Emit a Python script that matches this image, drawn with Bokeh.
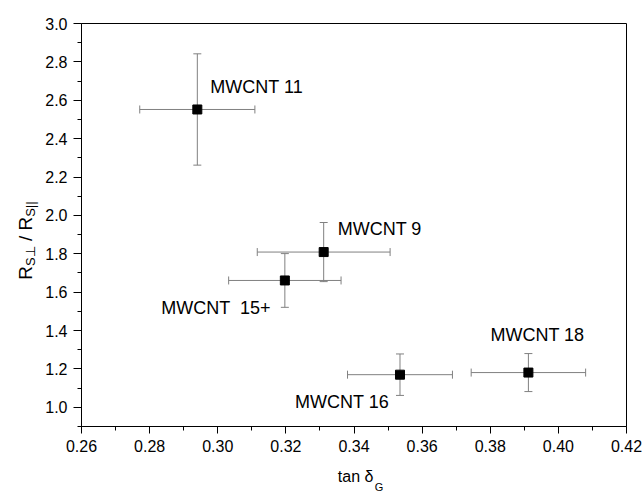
import math
from bokeh.plotting import figure
from bokeh.layouts import row, column
from bokeh.models import ColumnDataSource, FixedTicker, Whisker, TeeHead, Range1d
from bokeh.core.properties import value
from bokeh.embed import file_html
from bokeh.resources import INLINE

# ---- data ----
names = ["MWCNT 11", "MWCNT 9", "MWCNT \u00a015+", "MWCNT 16", "MWCNT 18"]
tan_delta = [0.2940, 0.3311, 0.3197, 0.3535, 0.3912]
tan_delta_err = [0.0169, 0.0195, 0.0165, 0.0154, 0.0168]
ratio = [2.552, 1.809, 1.661, 1.170, 1.181]
ratio_err = [0.290, 0.154, 0.140, 0.108, 0.099]

x_ticks = [0.26, 0.28, 0.30, 0.32, 0.34, 0.36, 0.38, 0.40, 0.42]
x_tick_labels = ["0.26", "0.28", "0.30", "0.32", "0.34", "0.36", "0.38", "0.40", "0.42"]
x_minor = [0.27, 0.29, 0.31, 0.33, 0.35, 0.37, 0.39, 0.41]
y_ticks = [1.0, 1.2, 1.4, 1.6, 1.8, 2.0, 2.2, 2.4, 2.6, 2.8, 3.0]
y_tick_labels = ["1.0", "1.2", "1.4", "1.6", "1.8", "2.0", "2.2", "2.4", "2.6", "2.8", "3.0"]
y_minor = [0.9, 1.1, 1.3, 1.5, 1.7, 1.9, 2.1, 2.3, 2.5, 2.7, 2.9]

# label placement (pixel offsets from each point)
label_dx = [13, 14, -14, -11, -38]
label_dy = [-22, -23, 28, 27, -38]
label_align = ["left", "left", "right", "right", "left"]

FONT = "Liberation Sans"
GREY = "#808080"

src = ColumnDataSource(dict(
    x=tan_delta, y=ratio,
    xl=[a - b for a, b in zip(tan_delta, tan_delta_err)],
    xu=[a + b for a, b in zip(tan_delta, tan_delta_err)],
    yl=[a - b for a, b in zip(ratio, ratio_err)],
    yu=[a + b for a, b in zip(ratio, ratio_err)],
    name=names, dx=label_dx, dy=label_dy, align=label_align,
))

YT_W = 40          # width of the y-title strip
XT_H = 30          # height of the x-title strip
TOTAL_W, TOTAL_H = 643, 492
MAIN_W, MAIN_H = TOTAL_W - YT_W, TOTAL_H - XT_H

p = figure(width=MAIN_W, height=MAIN_H, output_backend="svg", toolbar_location=None,
           x_range=Range1d(0.26, 0.42), y_range=Range1d(0.9, 3.0),
           min_border_left=41, min_border_right=17, min_border_top=23, min_border_bottom=36)
p.xgrid.visible = False
p.ygrid.visible = False
p.outline_line_color = "black"
p.outline_line_width = 1
p.background_fill_color = "white"
p.border_fill_color = "white"

for ax, ticks, minor, labels, out in ((p.xaxis[0], x_ticks, x_minor, x_tick_labels, 7),
                                      (p.yaxis[0], y_ticks, y_minor, y_tick_labels, 8)):
    ax.ticker = FixedTicker(ticks=ticks, minor_ticks=minor)
    ax.major_label_overrides = {t: l for t, l in zip(ticks, labels)}
    ax.major_tick_out = out
    ax.major_tick_in = 0
    ax.minor_tick_out = 4
    ax.minor_tick_in = 0
    ax.axis_line_color = "black"
    ax.major_tick_line_color = "black"
    ax.minor_tick_line_color = "black"
    ax.major_label_text_font = FONT
    ax.major_label_text_font_size = "16px"
    ax.major_label_text_color = "black"
    ax.major_label_standoff = 6

# error bars
def heads():
    return dict(lower_head=TeeHead(size=8, line_color=GREY, line_width=1),
                upper_head=TeeHead(size=8, line_color=GREY, line_width=1))
p.add_layout(Whisker(source=src, base="y", lower="xl", upper="xu", dimension="width",
                     line_color=GREY, line_width=1, level="underlay", **heads()))
p.add_layout(Whisker(source=src, base="x", lower="yl", upper="yu", dimension="height",
                     line_color=GREY, line_width=1, level="underlay", **heads()))

p.scatter("x", "y", source=src, marker="square", size=9, color="black")

p.text("x", "y", text="name", source=src, x_offset="dx", y_offset="dy",
       text_align="align", text_baseline="middle",
       text_font=value(FONT), text_font_size="18px", text_color="black")


def strip(w, h):
    f = figure(width=w, height=h, output_backend="svg", toolbar_location=None,
               x_range=Range1d(0, w), y_range=Range1d(h, 0),
               x_axis_type=None, y_axis_type=None, min_border=0)
    f.xgrid.visible = False
    f.ygrid.visible = False
    f.outline_line_color = None
    f.background_fill_color = "white"
    f.border_fill_color = "white"
    return f

# x title: tan δ_G  (pixel positions inside its strip, y measured from strip top)
xt = strip(MAIN_W, XT_H)
xt.text(x=[323], y=[13.7], text=["tan δ"], text_align="right", text_baseline="alphabetic",
        text_font=value(FONT), text_font_size="16px", text_color="black")
xt.text(x=[324.5], y=[24.5], text=["G"], text_align="left", text_baseline="alphabetic",
        text_font=value(FONT), text_font_size="11px", text_color="black")

# y title: R_S⊥ / R_S||  (rotated, read bottom to top)
yt = strip(YT_W, TOTAL_H)
yt_parts = ["R", "S\u22a5", "\u00a0/\u00a0R", "S||"]
yt_start = [279.2, 265.5, 245.9, 216.3]
yt_base = [25.0, 30.0, 25.0, 30.0]
yt_size = ["19px", "13px", "19px", "13px"]
for t, s, b, fs in zip(yt_parts, yt_start, yt_base, yt_size):
    yt.text(x=[b], y=[s], text=[t], angle=math.pi / 2, text_align="left",
            text_baseline="alphabetic", text_font=value(FONT), text_font_size=fs,
            text_color="black")

layout = row(yt, column(p, xt, spacing=0), spacing=0)

open("out.html", "w").write(file_html(layout, INLINE))
